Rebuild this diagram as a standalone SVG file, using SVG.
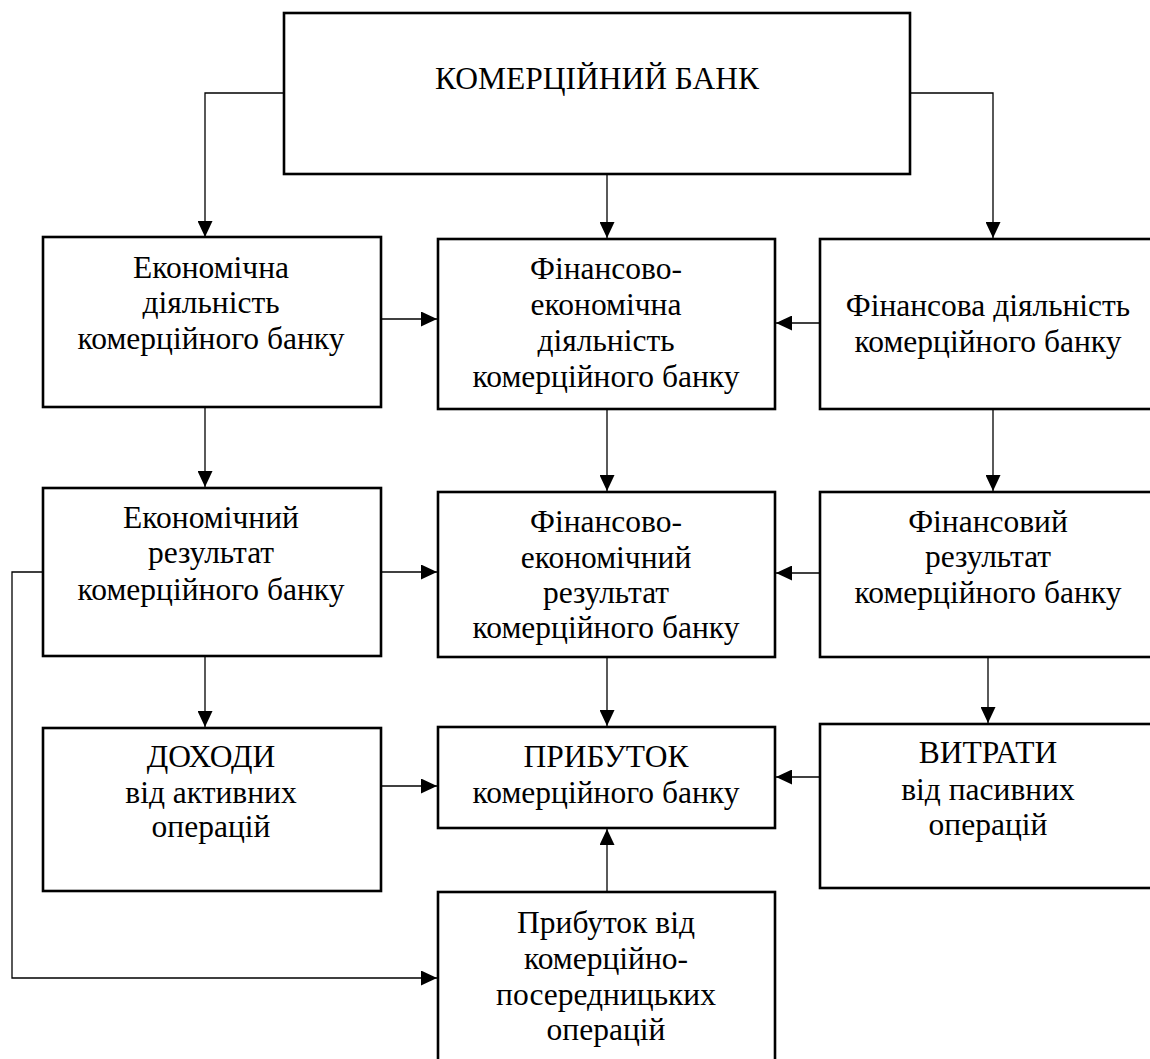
<svg xmlns="http://www.w3.org/2000/svg" width="1150" height="1059" viewBox="0 0 1150 1059">
<style>
.box{fill:#fff;stroke:#000;stroke-width:2.6}
.t{font-family:"Liberation Serif","Times New Roman",serif;font-size:31.5px;fill:#000;text-anchor:middle}
.c{fill:none;stroke:#000;stroke-width:1.3}
</style>
<defs>
<marker id="ah" markerUnits="userSpaceOnUse" markerWidth="16" markerHeight="15" refX="16" refY="7.5" orient="auto">
<path d="M0,0 L16,7.5 L0,15 z" fill="#000"/>
</marker>
</defs>
<rect width="1150" height="1059" fill="#fff"/>
<g id="connectors">
<path class="c" d="M284,93 H205 V237" marker-end="url(#ah)"/>
<path class="c" d="M607,174 V238" marker-end="url(#ah)"/>
<path class="c" d="M910,93 H993 V238" marker-end="url(#ah)"/>
<path class="c" d="M381,319 H437" marker-end="url(#ah)"/>
<path class="c" d="M820,323 H776" marker-end="url(#ah)"/>
<path class="c" d="M205,407 V487" marker-end="url(#ah)"/>
<path class="c" d="M607,409 V491" marker-end="url(#ah)"/>
<path class="c" d="M993,409 V491" marker-end="url(#ah)"/>
<path class="c" d="M381,572 H437" marker-end="url(#ah)"/>
<path class="c" d="M820,573 H776" marker-end="url(#ah)"/>
<path class="c" d="M205,656 V727" marker-end="url(#ah)"/>
<path class="c" d="M607,657 V726" marker-end="url(#ah)"/>
<path class="c" d="M988,657 V723" marker-end="url(#ah)"/>
<path class="c" d="M381,786 H437" marker-end="url(#ah)"/>
<path class="c" d="M820,777 H776" marker-end="url(#ah)"/>
<path class="c" d="M607,892 V829" marker-end="url(#ah)"/>
<path class="c" d="M43,572 H12 V978 H437" marker-end="url(#ah)"/>
</g>
<g id="bank">
<rect class="box" x="284" y="13" width="626" height="161"/>
<text class="t" x="597" y="89">КОМЕРЦІЙНИЙ БАНК</text>
</g>
<g id="econ-activity">
<rect class="box" x="43" y="237" width="338" height="170"/>
<text class="t" x="211" y="278">Економічна</text>
<text class="t" x="211" y="313">діяльність</text>
<text class="t" x="211" y="349">комерційного банку</text>
</g>
<g id="fin-econ-activity">
<rect class="box" x="438" y="239" width="337" height="170"/>
<text class="t" x="606" y="279">Фінансово-</text>
<text class="t" x="606" y="315">економічна</text>
<text class="t" x="606" y="351">діяльність</text>
<text class="t" x="606" y="387">комерційного банку</text>
</g>
<g id="fin-activity">
<rect class="box" x="820" y="239" width="345" height="170"/>
<text class="t" x="988" y="316">Фінансова діяльність</text>
<text class="t" x="988" y="352">комерційного банку</text>
</g>
<g id="econ-result">
<rect class="box" x="43" y="488" width="338" height="168"/>
<text class="t" x="211" y="528">Економічний</text>
<text class="t" x="211" y="563">результат</text>
<text class="t" x="211" y="600">комерційного банку</text>
</g>
<g id="fin-econ-result">
<rect class="box" x="438" y="492" width="337" height="165"/>
<text class="t" x="606" y="532">Фінансово-</text>
<text class="t" x="606" y="568">економічний</text>
<text class="t" x="606" y="603">результат</text>
<text class="t" x="606" y="638">комерційного банку</text>
</g>
<g id="fin-result">
<rect class="box" x="820" y="492" width="345" height="165"/>
<text class="t" x="988" y="532">Фінансовий</text>
<text class="t" x="988" y="567">результат</text>
<text class="t" x="988" y="603">комерційного банку</text>
</g>
<g id="income">
<rect class="box" x="43" y="728" width="338" height="163"/>
<text class="t" x="211" y="767">ДОХОДИ</text>
<text class="t" x="211" y="803">від активних</text>
<text class="t" x="211" y="837">операцій</text>
</g>
<g id="profit">
<rect class="box" x="438" y="727" width="337" height="101"/>
<text class="t" x="606" y="767">ПРИБУТОК</text>
<text class="t" x="606" y="803">комерційного банку</text>
</g>
<g id="expenses">
<rect class="box" x="820" y="724" width="345" height="164"/>
<text class="t" x="988" y="763">ВИТРАТИ</text>
<text class="t" x="988" y="800">від пасивних</text>
<text class="t" x="988" y="835">операцій</text>
</g>
<g id="intermediary-profit">
<rect class="box" x="438" y="892" width="337" height="180"/>
<text class="t" x="606" y="933">Прибуток від</text>
<text class="t" x="606" y="969">комерційно-</text>
<text class="t" x="606" y="1005">посередницьких</text>
<text class="t" x="606" y="1040">операцій</text>
</g>
</svg>
